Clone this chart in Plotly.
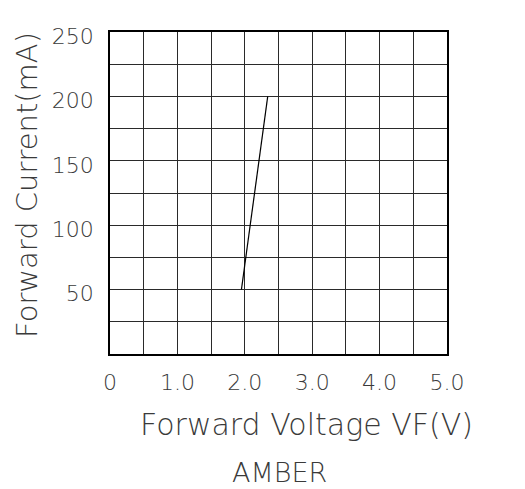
import plotly.graph_objects as go

# Data
voltage = [1.95, 2.08, 2.21, 2.34]
current = [50, 100, 150, 200]

x_tick_vals = [0, 0.5, 1.0, 1.5, 2.0, 2.5, 3.0, 3.5, 4.0, 4.5, 5.0]
x_tick_text = ["0", "", "1.0", "", "2.0", "", "3.0", "", "4.0", "", "5.0"]
y_tick_vals = [0, 25, 50, 75, 100, 125, 150, 175, 200, 225, 250]
y_tick_text = ["", "", "50", "", "100", "", "150", "", "200", "", "250"]

x_title = "Forward Voltage VF(V)"
y_title = "Forward Current(mA)"
caption = "AMBER"

FONT = "DejaVu Sans ExtraLight, DejaVu Sans"
WGT = 200
TXT = "#3a3a3a"
GRID = "#2a2a2a"

# page offset (body margin) compensation
OFF = 8
L, T, PW, PH = 110 - OFF, 32 - OFF, 337, 322
W, H = 525, 489

fig = go.Figure()
fig.add_trace(go.Scatter(
    x=voltage, y=current, mode="lines",
    line=dict(color="black", width=1.2),
    showlegend=False, hoverinfo="skip",
))

def px_x(px):
    return (px - OFF - L) / PW

def px_y(py):
    return (T + PH - (py - OFF)) / PH

def f(size):
    return dict(size=size, color=TXT, family=FONT, weight=WGT)

fig.update_layout(
    width=W, height=H,
    margin=dict(l=L, r=W - L - PW, t=T, b=H - T - PH),
    paper_bgcolor="white", plot_bgcolor="white",
    font=dict(family=FONT, color=TXT),
    xaxis=dict(
        range=[0, 5], tickmode="array", tickvals=x_tick_vals, ticktext=x_tick_text,
        showgrid=True, gridcolor=GRID, gridwidth=1.2,
        showline=True, linecolor="black", linewidth=1.5, mirror=True,
        ticks="", zeroline=False, tickfont=f(22),
        ticklabelstandoff=8,
    ),
    yaxis=dict(
        range=[0, 250], tickmode="array", tickvals=y_tick_vals, ticktext=y_tick_text,
        showgrid=True, gridcolor=GRID, gridwidth=1.2,
        showline=True, linecolor="black", linewidth=1.5, mirror=True,
        ticks="", zeroline=False, tickfont=f(22),
        ticklabelstandoff=10, ticklabelshift=4,
    ),
    annotations=[
        dict(text=x_title, xref="paper", yref="paper", x=px_x(306), y=px_y(424),
             xanchor="center", yanchor="middle", showarrow=False, font=f(30)),
        dict(text=caption, xref="paper", yref="paper", x=px_x(279), y=px_y(472),
             xanchor="center", yanchor="middle", showarrow=False, font=f(27)),
        dict(text=y_title, xref="paper", yref="paper", x=px_x(27), y=px_y(185),
             xanchor="center", yanchor="middle", showarrow=False, textangle=-90,
             font=f(29)),
    ],
)

fig.write_html("out.html")
